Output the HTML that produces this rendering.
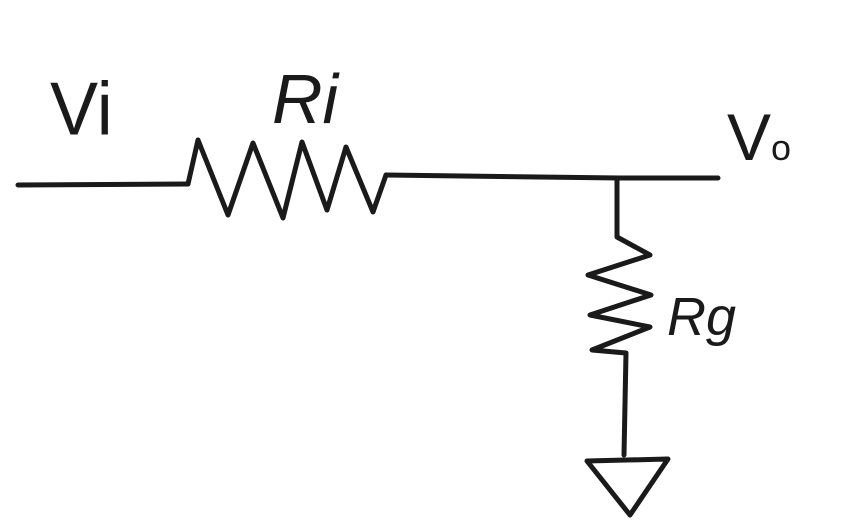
<!DOCTYPE html>
<html><head><meta charset="utf-8"><style>
html,body{margin:0;padding:0;background:#fff;}
svg{display:block;}
text{font-family:"Liberation Sans",sans-serif;fill:#1a1a1a;}
</style></head><body>
<svg width="844" height="522" viewBox="0 0 844 522">
<g fill="none" stroke="#1a1a1a" stroke-width="5" stroke-linejoin="round" stroke-linecap="round">
<path d="M18,185 L188,184"/>
<path d="M188,184 L198,140 L228,215 L253,143 L283,218 L302,142 L327,210 L346,147 L373,212 L386,175"/>
<path d="M386,175 L620,178 L718,178"/>
<path d="M617,178 L617,237 L650,255 L588,275 L651,295 L590,315 L650,327 L592,350 L626,353 L624,455"/>
<path d="M587,461 L668,459 L630,515 Z"/>
</g>
<text x="50" y="128" font-size="72" transform="scale(1,1.05)">Vi</text>
<text x="272" y="123" font-size="70" font-style="italic">Ri</text>
<text x="727" y="160" font-size="66">V<tspan font-size="36">o</tspan></text>
<text x="667" y="335" font-size="54" font-style="italic">Rg</text>
</svg>
</body></html>
